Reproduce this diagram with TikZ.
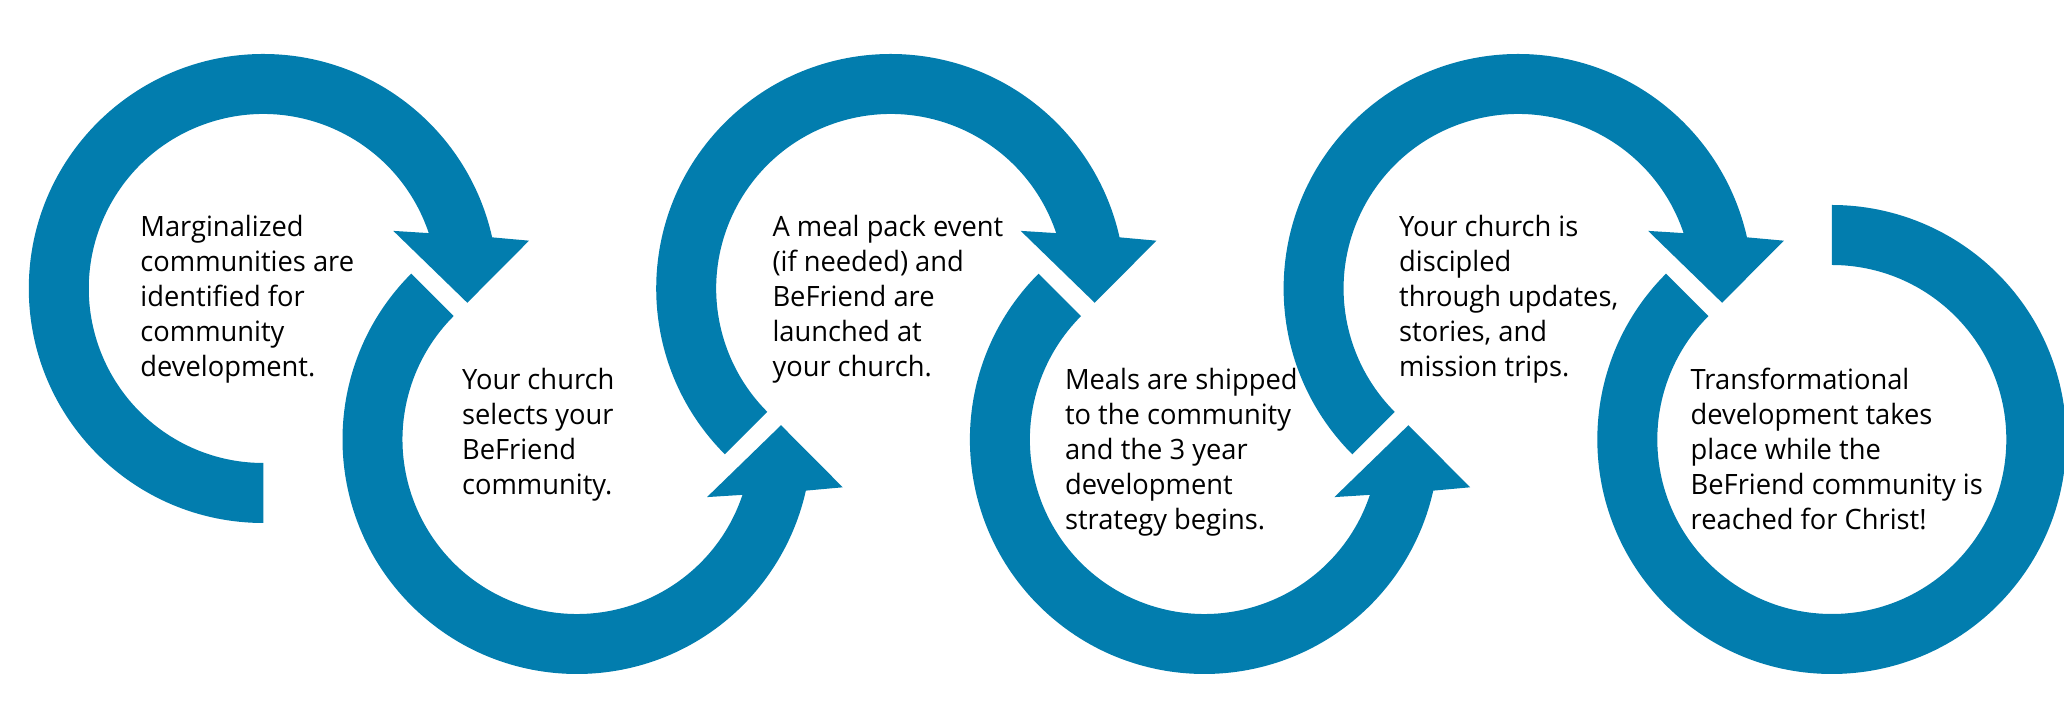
\documentclass[tikz,border=0pt]{standalone}
\usepackage{fontspec}
\setmainfont[FakeStretch=0.975]{Open Sans}
\usepackage{tikz}
\usepackage{xcolor}
\definecolor{loopblue}{RGB}{2,125,174}
\tikzstyle{ring} = [fill=loopblue, draw=none]
\tikzstyle{stepnote} = [anchor=north west, inner sep=0pt, align=left, font=\fontsize{14}{17.5}\selectfont]
\newcommand{\ringout}{234.5}
\newcommand{\ringin}{174.5}
\newcommand{\ringmid}{204.5}

\begin{document}
\begin{tikzpicture}[x=0.5pt, y=0.5pt]
    \useasboundingbox (0,0) rectangle (2064,710);

    % Upper loops, turning clockwise, head pointing down
    \foreach \cx/\ta in {263.3/270, 890.7/225, 1518.1/225} {
        \begin{scope}[shift={(\cx,421.5)}]
            \fill[ring] (\ta:\ringout)
                arc[start angle=\ta, end angle=12.6, radius=\ringout]
                -- (10.2:270) -- (-4:\ringmid) -- (23.9:142.2) -- (18.5:\ringin)
                arc[start angle=18.5, end angle=\ta, radius=\ringin]
                -- cycle;
        \end{scope}
    }

    % Lower loops, turning anticlockwise, head pointing up
    \foreach \cx in {577, 1204.4} {
        \begin{scope}[shift={(\cx,270.5)}]
            \fill[ring] (135:\ringout)
                arc[start angle=135, end angle=347.4, radius=\ringout]
                -- (349.8:270) -- (4:\ringmid) -- (336.1:142.2) -- (341.5:\ringin)
                arc[start angle=341.5, end angle=135, radius=\ringin]
                -- cycle;
        \end{scope}
    }

    % Last loop, no head
    \begin{scope}[shift={(1831.8,270.5)}]
        \fill[ring] (135:\ringout)
            arc[start angle=135, end angle=450, radius=\ringout]
            -- (90:\ringin)
            arc[start angle=450, end angle=135, radius=\ringin]
            -- cycle;
    \end{scope}

    % Step texts
    \node[stepnote] (t1) at (140, 495.3) {Marginalized\\communities are\\identified for\\community\\development.};
    \node[stepnote] (t2) at (461.7, 342.3) {Your church\\selects your\\BeFriend\\community.};
    \node[stepnote] (t3) at (772.1, 495.3) {A meal pack event\\(if needed) and\\BeFriend are\\launched at\\your church.};
    \node[stepnote] (t4) at (1064.6, 342.3) {Meals are shipped\\to the community\\and the 3 year\\development\\strategy begins.};
    \node[stepnote] (t5) at (1398.7, 495.3) {Your church is\\discipled\\through updates,\\stories, and\\mission trips.};
    \node[stepnote] (t6) at (1690.3, 342.3) {Transformational\\development takes\\place while the\\BeFriend community is\\reached for Christ!};
\end{tikzpicture}
\end{document}
